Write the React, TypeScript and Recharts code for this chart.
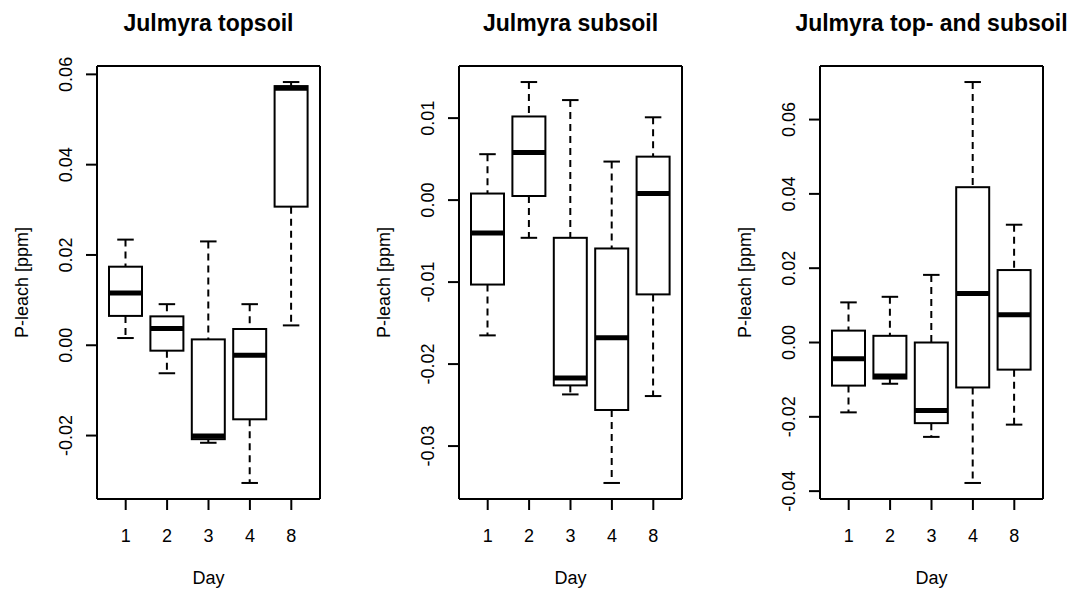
import { ComposedChart, Bar, XAxis, YAxis } from 'recharts'

const DAYS = ['1', '2', '3', '4', '8']

// topsoil
const topMin = [0.0016, -0.0062, -0.0216, -0.0305, 0.0044]
const topQ1 = [0.0065, -0.0012, -0.0208, -0.0164, 0.0307]
const topMed = [0.0116, 0.0037, -0.0201, -0.0022, 0.0569]
const topQ3 = [0.0174, 0.0064, 0.0013, 0.0036, 0.0574]
const topMax = [0.0234, 0.0091, 0.0230, 0.0091, 0.0583]
const topTicks = [-0.02, 0, 0.02, 0.04, 0.06]

// subsoil
const subMin = [-0.0165, -0.0046, -0.0237, -0.0345, -0.0239]
const subQ1 = [-0.0103, 0.0005, -0.0226, -0.0256, -0.0115]
const subMed = [-0.0040, 0.0058, -0.0217, -0.0168, 0.0008]
const subQ3 = [0.0008, 0.0102, -0.0046, -0.0059, 0.0053]
const subMax = [0.0056, 0.0144, 0.0122, 0.0047, 0.0101]
const subTicks = [-0.03, -0.02, -0.01, 0, 0.01]

// top- and subsoil
const allMin = [-0.0188, -0.0111, -0.0254, -0.0378, -0.0221]
const allQ1 = [-0.0116, -0.0097, -0.0217, -0.0121, -0.0073]
const allMed = [-0.0044, -0.0090, -0.0183, 0.0132, 0.0075]
const allQ3 = [0.0032, 0.0018, 0.0000, 0.0418, 0.0195]
const allMax = [0.0108, 0.0123, 0.0182, 0.0701, 0.0317]
const allTicks = [-0.04, -0.02, 0, 0.02, 0.04, 0.06]

const FONT = '"Liberation Sans", Arial, sans-serif'

const PANELS = [
  { title: 'Julmyra topsoil', left: 0, min: topMin, q1: topQ1, med: topMed, q3: topQ3, max: topMax, ticks: topTicks },
  { title: 'Julmyra subsoil', left: 362, min: subMin, q1: subQ1, med: subMed, q3: subQ3, max: subMax, ticks: subTicks },
  { title: 'Julmyra top- and subsoil', left: 723, min: allMin, q1: allQ1, med: allMed, q3: allQ3, max: allMax, ticks: allTicks },
]

function BoxShape(props: any) {
  const { x, y, width, height, payload } = props
  const { lo, q1, med, q3, hi } = payload
  const py = (v: number) => y + height * (hi - v) / (hi - lo)
  const cx = x + width / 2
  const cap = width / 4
  return (
    <g stroke="#000" fill="none">
      <line x1={cx} x2={cx} y1={py(hi)} y2={py(q3)} strokeWidth={2} strokeDasharray="7 5" />
      <line x1={cx} x2={cx} y1={py(q1)} y2={py(lo)} strokeWidth={2} strokeDasharray="7 5" />
      <line x1={cx - cap} x2={cx + cap} y1={py(hi)} y2={py(hi)} strokeWidth={2} />
      <line x1={cx - cap} x2={cx + cap} y1={py(lo)} y2={py(lo)} strokeWidth={2} />
      <rect x={x} y={py(q3)} width={width} height={py(q1) - py(q3)} fill="#fff" strokeWidth={2} />
      <line x1={x} x2={x + width} y1={py(med)} y2={py(med)} strokeWidth={5} />
    </g>
  )
}

function YTick(props: any) {
  const { x, y, payload } = props
  const tx = x - 14
  return (
    <text x={tx} y={y} transform={`rotate(-90, ${tx}, ${y})`} textAnchor="middle" fontSize={18} fontFamily={FONT} fill="#000">
      {Number(payload.value).toFixed(2)}
    </text>
  )
}

function XTick(props: any) {
  const { x, y, payload } = props
  return (
    <text x={x} y={y + 32} textAnchor="middle" fontSize={18} fontFamily={FONT} fill="#000">{payload.value}</text>
  )
}

function Panel({ p }: { p: typeof PANELS[number] }) {
  const rows = DAYS.map((d, i) => ({ day: d, lo: p.min[i], q1: p.q1[i], med: p.med[i], q3: p.q3[i], hi: p.max[i] }))
  const dmin = Math.min(...p.min)
  const dmax = Math.max(...p.max)
  const ext = (dmax - dmin) * 0.04
  const line = { stroke: '#000', strokeWidth: 2 }
  return (
    <div style={{ position: 'absolute', left: p.left, top: 0 }}>
      <div style={{ position: 'absolute', left: 97 + 111.5 - 200, top: 12, width: 400, textAlign: 'center', fontFamily: FONT, fontWeight: 'bold', fontSize: 23, lineHeight: '23px', whiteSpace: 'nowrap', color: '#000' }}>
        {p.title}
      </div>
      <ComposedChart width={330} height={590} data={rows} margin={{ top: 65, right: 9, bottom: 31, left: 27 }}>
        <XAxis dataKey="day" height={60} padding={{ left: 8, right: 8 }} interval={0} tickSize={11} tickMargin={0}
          tick={<XTick />} axisLine={line} tickLine={line}
          label={(lp: any) => {
            const vb = lp.viewBox
            return <text x={vb.x + vb.width / 2} y={vb.y + 85} textAnchor="middle" fontSize={18} fontFamily={FONT} fill="#000">Day</text>
          }} />
        <XAxis xAxisId="top" orientation="top" dataKey="day" height={1} tick={false} tickLine={false} axisLine={line} />
        <YAxis type="number" domain={[dmin - ext, dmax + ext]} ticks={p.ticks} allowDataOverflow width={70} tickSize={11} tickMargin={0}
          tick={<YTick />} axisLine={line} tickLine={line}
          label={(lp: any) => {
            const vb = lp.viewBox
            const lx = vb.x + vb.width - 69
            const ly = vb.y + vb.height / 2
            return <text x={lx} y={ly} transform={`rotate(-90, ${lx}, ${ly})`} textAnchor="middle" fontSize={18} fontFamily={FONT} fill="#000">P-leach [ppm]</text>
          }} />
        <YAxis yAxisId="right" orientation="right" type="number" domain={[0, 1]} width={1} tick={false} tickLine={false} axisLine={line} />
        <Bar dataKey={(r: any) => [r.lo, r.hi]} barSize={33} shape={(sp: any) => <BoxShape {...sp} />} isAnimationActive={false} />
      </ComposedChart>
    </div>
  )
}

export default function App() {
  return (
    <div style={{ position: 'absolute', left: 0, top: 0, width: 1069, height: 590, background: '#fff' }}>
      {PANELS.map(p => <Panel key={p.title} p={p} />)}
    </div>
  )
}
